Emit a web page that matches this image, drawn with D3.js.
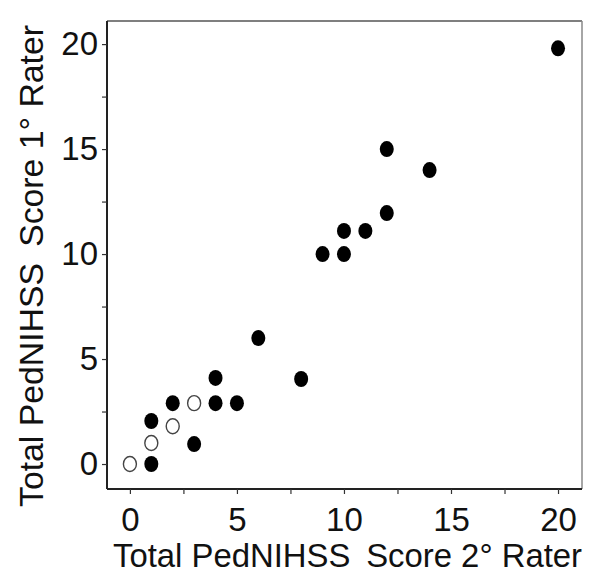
<!DOCTYPE html>
<html>
<head>
<meta charset="utf-8">
<script src="https://cdn.jsdelivr.net/npm/d3@7"></script>
<style>
  html, body { margin: 0; padding: 0; background: #fff; }
  svg { display: block; }
  text { font-family: "Liberation Sans", Arial, sans-serif; fill: #111; }
</style>
</head>
<body>
<svg id="chart" width="603" height="586"></svg>
<script>
// Data
const filledX = [20, 12, 14, 12, 11, 10, 9, 10, 6, 8, 4, 4, 5, 2, 1, 1, 3];
const filledY = [19.8, 15, 14, 11.95, 11.1, 11.1, 10, 10, 6, 4.05, 4.1, 2.9, 2.9, 2.9, 2.05, 0, 0.95];
const openX = [0, 1, 2, 3];
const openY = [0, 1, 1.8, 2.9];
const tickValues = [0, 2.5, 5, 7.5, 10, 12.5, 15, 17.5, 20];
const tickLabels = ["0", "", "5", "", "10", "", "15", "", "20"];
const xTitle = "Total PedNIHSS\u2009 Score 2\u00B0 Rater";
const yTitle = "Total PedNIHSS\u2009 Score 1\u00B0 Rater";

const svg = d3.select("#chart");
const L = 107, R = 582, T = 21, B = 489;

const x = d3.scaleLinear().domain([-1.07, 21.12]).range([L, R]);
const y = d3.scaleLinear().domain([-1.19, 21.1]).range([B, T]);

const fmt = (d) => tickLabels[tickValues.indexOf(d)];

// frame: top/right lighter
svg.append("line").attr("x1", L).attr("x2", R).attr("y1", T).attr("y2", T)
  .attr("stroke", "#555").attr("stroke-width", 1.5);
svg.append("line").attr("x1", R).attr("x2", R).attr("y1", T).attr("y2", B)
  .attr("stroke", "#888").attr("stroke-width", 1.5);

const xAxis = svg.append("g").attr("transform", `translate(0,${B})`)
  .call(d3.axisBottom(x).tickValues(tickValues).tickFormat(fmt).tickSize(5).tickPadding(14).tickSizeOuter(0));
const yAxis = svg.append("g").attr("transform", `translate(${L},0)`)
  .call(d3.axisLeft(y).tickValues(tickValues).tickFormat(fmt).tickSize(5).tickPadding(4).tickSizeOuter(0));

[xAxis, yAxis].forEach(g => {
  g.select(".domain").attr("stroke", "#222").attr("stroke-width", 2);
  g.selectAll(".tick line").attr("stroke", "#333").attr("stroke-width", 1.2);
  g.selectAll(".tick text").attr("font-size", 33).attr("fill", "#111")
    .style("font-family", '"Liberation Sans", Arial, sans-serif');
});
// extend domain lines to full frame
xAxis.select(".domain").attr("d", `M${L},0H${R}`);
yAxis.select(".domain").attr("d", `M0,${T}V${B}`);

// points
const filled = filledX.map((v, i) => ({ x: v, y: filledY[i] }));
const open = openX.map((v, i) => ({ x: v, y: openY[i] }));

svg.append("g").selectAll("ellipse").data(filled).join("ellipse")
  .attr("cx", d => x(d.x)).attr("cy", d => y(d.y))
  .attr("rx", 7).attr("ry", 8)
  .attr("fill", "#000");

svg.append("g").selectAll("ellipse").data(open).join("ellipse")
  .attr("cx", d => x(d.x)).attr("cy", d => y(d.y))
  .attr("rx", 6.5).attr("ry", 7.5)
  .attr("fill", "#fff").attr("stroke", "#444").attr("stroke-width", 1.4);

// titles
svg.append("text").attr("x", 113).attr("y", 567)
  .attr("font-size", 34).attr("textLength", 469).attr("lengthAdjust", "spacingAndGlyphs")
  .text(xTitle);

svg.append("text").attr("transform", "translate(43,507) rotate(-90)")
  .attr("font-size", 34).attr("textLength", 482).attr("lengthAdjust", "spacingAndGlyphs")
  .text(yTitle);
</script>
</body>
</html>
